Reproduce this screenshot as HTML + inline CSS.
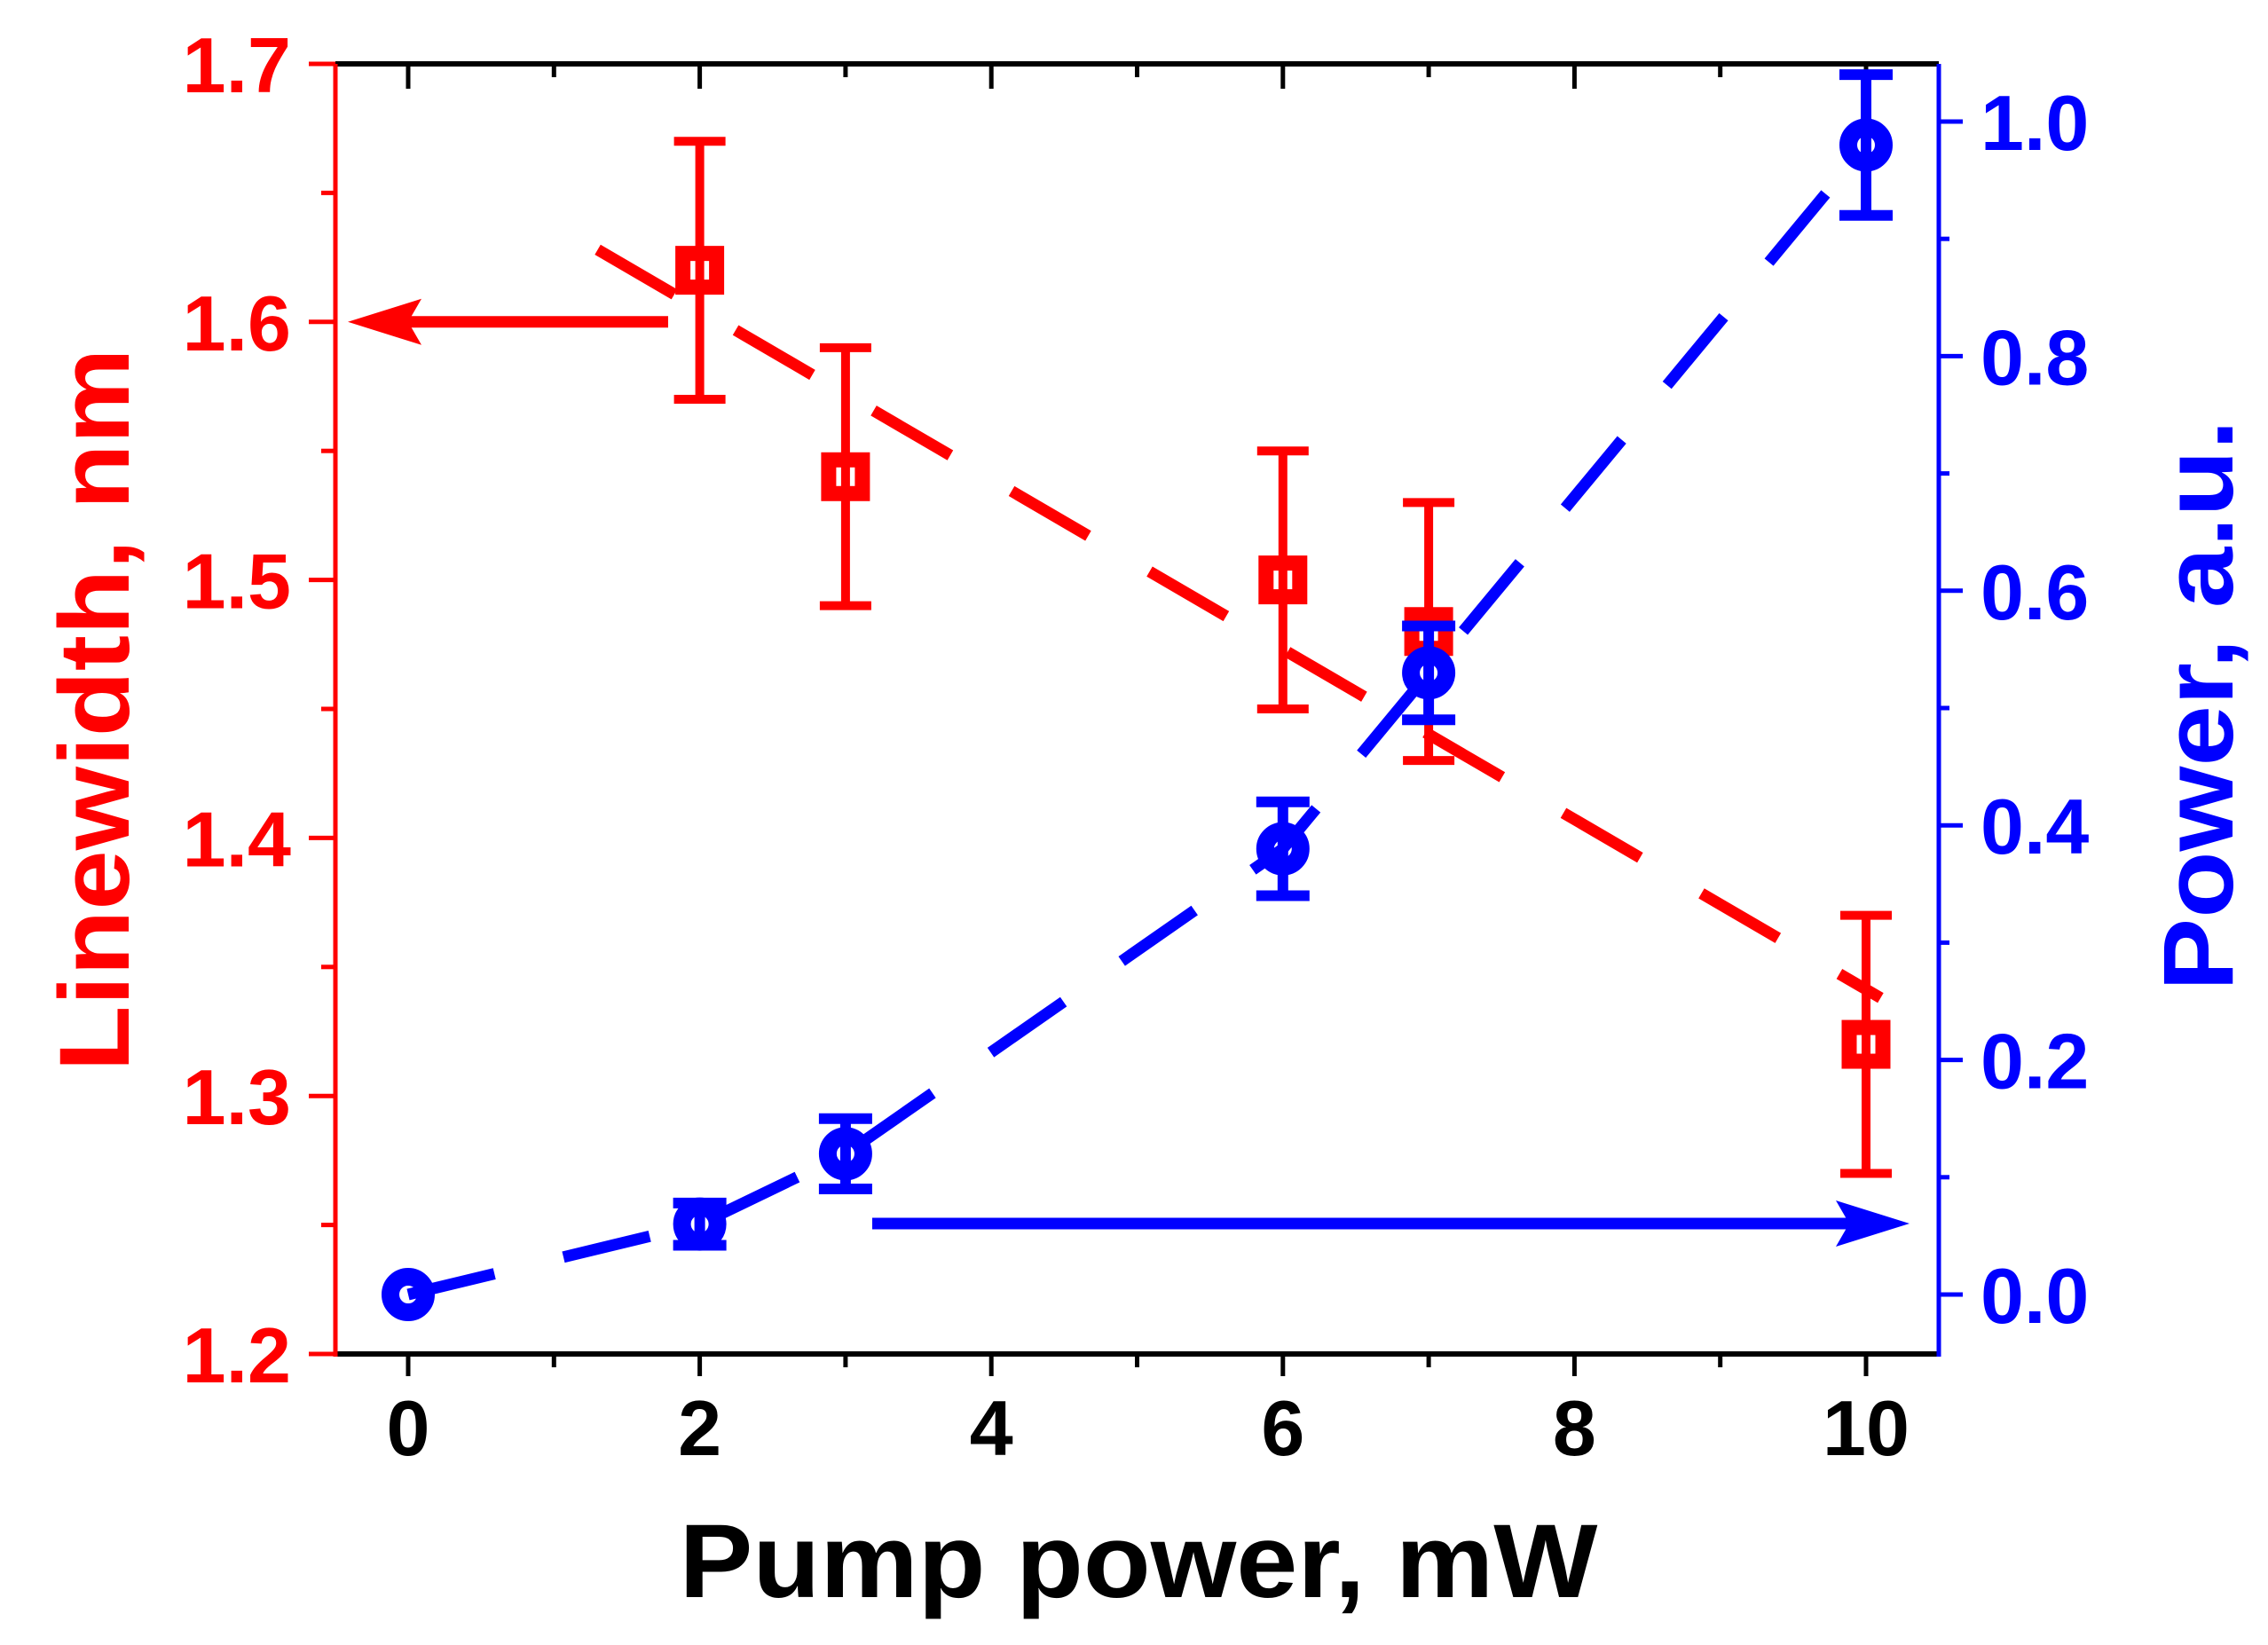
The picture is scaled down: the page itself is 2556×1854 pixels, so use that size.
<!DOCTYPE html>
<html><head><meta charset="utf-8"><style>
html,body{margin:0;padding:0;background:#fff;}
svg{display:block;}
text{font-family:"Liberation Sans",Arial,sans-serif;font-weight:bold;}
</style></head>
<body>
<svg id="chart" width="2556" height="1854" viewBox="0 0 2556 1854" xmlns="http://www.w3.org/2000/svg">
<rect x="0" y="0" width="2556" height="1854" fill="#fff"/>
<g id="plot"></g>
</svg>
<script>
const xTicks=[0,2,4,6,8,10];
const xMinorTicks=[1,3,5,7,9];
const leftTicks=[1.2,1.3,1.4,1.5,1.6,1.7];
const leftTickLabels=["1.2","1.3","1.4","1.5","1.6","1.7"];
const leftMinor=[1.25,1.35,1.45,1.55,1.65];
const rightTicks=[0,0.2,0.4,0.6,0.8,1.0];
const rightTickLabels=["0.0","0.2","0.4","0.6","0.8","1.0"];
const rightMinor=[0.1,0.3,0.5,0.7,0.9];
const pump=[2,3,6,7,10];
const linewidth=[1.62,1.54,1.50,1.48,1.32];
const linewidthErr=[0.05,0.05,0.05,0.05,0.05];
const fitStart=[1.3,1.628];
const fitEnd=[10.1,1.338];
const pumpPow=[0,2,3,6,7,10];
const power=[0.0,0.06,0.12,0.38,0.53,0.98];
const powerErr=[0,0.018,0.03,0.04,0.04,0.06];

const NS="http://www.w3.org/2000/svg";
const g=document.getElementById('plot');
const L=378,R=2185,T=72,B=1526;
const X=v=>460+(v-0)*(2103-460)/10;
const YL=v=>B-(v-1.2)*(B-T)/0.5;
const YR=v=>1459-v*(1459-137);
function mk(tag,attrs,parent){const e=document.createElementNS(NS,tag);for(const k in attrs)e.setAttribute(k,attrs[k]);(parent||g).appendChild(e);return e;}
const RED="#ff0000",BLUE="#0000ff";

let e;
e=mk('line',{x1:L,y1:B,x2:R,y2:B,stroke:'#000','stroke-width':6});


e=mk('line',{x1:L,y1:T,x2:R,y2:T,stroke:'#000','stroke-width':6});


e=mk('line',{x1:L,y1:T,x2:L,y2:B+3,stroke:RED,'stroke-width':5});


e=mk('line',{x1:R,y1:T,x2:R,y2:B+3,stroke:BLUE,'stroke-width':5});



xTicks.forEach((v,i)=>{
  const t=mk('line',{x1:X(v),y1:B,x2:X(v),y2:B+25,stroke:'#000','stroke-width':5});
  
  
  const t2=mk('line',{x1:X(v),y1:T,x2:X(v),y2:T+28,stroke:'#000','stroke-width':5});
  
  
  const lb=mk('text',{x:X(v),y:1640,'text-anchor':'middle','font-size':88,fill:'#000'});
  lb.textContent=String(v);
  
  
});
xMinorTicks.forEach(v=>{
  const t=mk('line',{x1:X(v),y1:B,x2:X(v),y2:B+15,stroke:'#000','stroke-width':5});
  
  
  const t2=mk('line',{x1:X(v),y1:T,x2:X(v),y2:T+15,stroke:'#000','stroke-width':5});
  
  
});
leftTicks.forEach((v,i)=>{
  const t=mk('line',{x1:L-30,y1:YL(v),x2:L,y2:YL(v),stroke:RED,'stroke-width':5});
  
  
  const lb=mk('text',{x:328,y:YL(v)+32,'text-anchor':'end','font-size':88,fill:RED});
  lb.textContent=leftTickLabels[i];
  
  
});
leftMinor.forEach(v=>{
  const t=mk('line',{x1:L-16,y1:YL(v),x2:L,y2:YL(v),stroke:RED,'stroke-width':5});
  
  
});
rightTicks.forEach((v,i)=>{
  const t=mk('line',{x1:R,y1:YR(v),x2:R+27,y2:YR(v),stroke:BLUE,'stroke-width':5});
  
  
  const lb=mk('text',{x:2232,y:YR(v)+32,'text-anchor':'start','font-size':88,fill:BLUE});
  lb.textContent=rightTickLabels[i];
  
  
});
rightMinor.forEach(v=>{
  const t=mk('line',{x1:R,y1:YR(v),x2:R+12,y2:YR(v),stroke:BLUE,'stroke-width':5});
  
  
});

e=mk('text',{x:1283,y:1800,'text-anchor':'middle','font-size':118,fill:'#000',textLength:1035,lengthAdjust:'spacingAndGlyphs'});
e.textContent='Pump power, mW';


e=mk('text',{x:0,y:0,'text-anchor':'middle','font-size':112,fill:RED,textLength:815,lengthAdjust:'spacingAndGlyphs',transform:'translate(145,800) rotate(-90)'});
e.textContent='Linewidth, nm';


e=mk('text',{x:0,y:0,'text-anchor':'middle','font-size':112,fill:BLUE,textLength:644,lengthAdjust:'spacingAndGlyphs',transform:'translate(2516,795) rotate(-90)'});
e.textContent='Power, a.u.';



e=mk('line',{x1:X(fitStart[0]),y1:YL(fitStart[1]),x2:X(fitEnd[0]),y2:YL(fitEnd[1]),stroke:RED,'stroke-width':13,'stroke-dasharray':'100 80'});



let d='';
pumpPow.forEach((v,i)=>{d+=(i?'L':'M')+X(v)+' '+YR(power[i])+' ';});
e=mk('path',{d:d,fill:'none',stroke:BLUE,'stroke-width':13,'stroke-dasharray':'100 80','stroke-linejoin':'round'});



pump.forEach((v,i)=>{
  const cx=X(v),cy=YL(linewidth[i]),y1=YL(linewidth[i]+linewidthErr[i]),y2=YL(linewidth[i]-linewidthErr[i]);
  const eb=mk('path',{d:`M${cx} ${y1} V${y2} M${cx-29} ${y1} H${cx+29} M${cx-29} ${y2} H${cx+29}`,stroke:RED,'stroke-width':10,fill:'none'});
  
  
  const s=mk('rect',{x:cx-19,y:cy-19,width:38,height:38,fill:'none',stroke:RED,'stroke-width':17});
  
  
});
pumpPow.forEach((v,i)=>{
  const cx=X(v),cy=YR(power[i]);
  if(powerErr[i]>0){
    const y1=YR(power[i]+powerErr[i]),y2=YR(power[i]-powerErr[i]);
    const eb=mk('path',{d:`M${cx} ${y1} V${y2} M${cx-30} ${y1} H${cx+30} M${cx-30} ${y2} H${cx+30}`,stroke:BLUE,'stroke-width':12,fill:'none'});
    
    
  }
  const c=mk('circle',{cx:cx,cy:cy,r:20,fill:'none',stroke:BLUE,'stroke-width':20});
  
  
});

e=mk('path',{d:`M753 ${YL(1.6)} H440`,stroke:RED,'stroke-width':13,fill:'none'});


e=mk('path',{d:`M392 ${YL(1.6)} L475 ${YL(1.6)-26} L460 ${YL(1.6)} L475 ${YL(1.6)+26} Z`,fill:RED});


e=mk('path',{d:`M983 1379 H2100`,stroke:BLUE,'stroke-width':13,fill:'none'});


e=mk('path',{d:`M2152 1379 L2069 1353 L2084 1379 L2069 1405 Z`,fill:BLUE});


</script>
</body></html>
